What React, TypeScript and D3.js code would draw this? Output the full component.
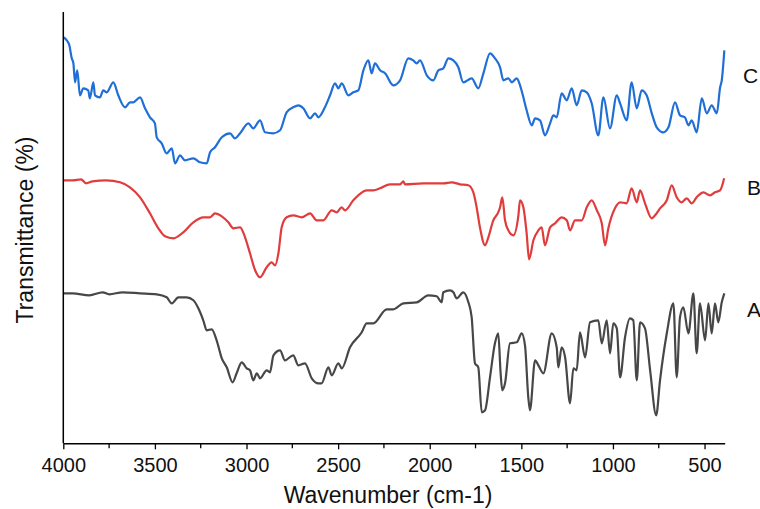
import React, { useRef, useEffect } from 'react';
import * as d3 from 'd3';

// FTIR spectra: [wavenumber (cm-1), transmittance (a.u.)]
const sampleC: [number, number][] = [
  [4000, 406], [3981, 403], [3967, 398], [3954, 385], [3945, 380], [3936, 361], [3924, 373],
  [3909, 348], [3891, 355], [3864, 353], [3855, 345], [3836, 361], [3827, 348], [3800, 346],
  [3782, 353], [3763, 351], [3727, 361], [3700, 348], [3663, 336], [3636, 341], [3618, 341],
  [3581, 346], [3554, 335], [3527, 326], [3500, 320], [3490, 306], [3463, 300], [3436, 290],
  [3408, 295], [3390, 280], [3363, 288], [3336, 283], [3290, 285], [3254, 281], [3217, 280],
  [3199, 291], [3172, 296], [3135, 306], [3090, 310], [3063, 305], [3035, 310], [2990, 320],
  [2963, 315], [2926, 323], [2899, 311], [2854, 310], [2817, 313], [2781, 331], [2745, 336],
  [2717, 338], [2690, 335], [2653, 325], [2626, 330], [2608, 326], [2572, 336], [2544, 348],
  [2517, 360], [2499, 355], [2480, 360], [2444, 348], [2417, 351], [2390, 353], [2362, 373],
  [2335, 383], [2317, 370], [2299, 380], [2271, 373], [2244, 370], [2199, 358], [2162, 363],
  [2117, 385], [2090, 383], [2071, 380], [2053, 383], [2016, 368], [1980, 363], [1953, 373],
  [1926, 375], [1898, 385], [1871, 383], [1844, 376], [1817, 361], [1771, 365], [1735, 355],
  [1707, 370], [1671, 390], [1644, 385], [1616, 376], [1598, 363], [1571, 365], [1552, 361],
  [1525, 365], [1507, 358], [1489, 346], [1471, 333], [1443, 318], [1425, 325], [1398, 323],
  [1371, 308], [1343, 320], [1325, 328], [1307, 326], [1280, 350], [1252, 343], [1225, 355],
  [1198, 338], [1170, 353], [1143, 351], [1116, 340], [1080, 308], [1052, 346], [1016, 315],
  [979, 348], [961, 340], [925, 323], [898, 361], [870, 335], [843, 353], [816, 348],
  [788, 330], [761, 316], [725, 311], [697, 316], [661, 341], [634, 328], [607, 326],
  [588, 318], [570, 323], [543, 311], [515, 345], [488, 330], [461, 338], [433, 330],
  [415, 356], [406, 363], [392, 393],
];

const sampleB: [number, number][] = [
  [4000, 263], [3949, 263], [3903, 264], [3876, 260], [3840, 262], [3767, 263], [3690, 261],
  [3636, 256], [3581, 246], [3527, 230], [3481, 215], [3445, 207], [3399, 205], [3345, 211],
  [3290, 221], [3236, 226], [3199, 226], [3172, 230], [3135, 227], [3099, 221], [3072, 215],
  [3035, 216], [3008, 206], [2981, 190], [2953, 173], [2926, 166], [2890, 176], [2863, 181],
  [2844, 178], [2826, 190], [2808, 216], [2781, 226], [2745, 228], [2699, 226], [2653, 230],
  [2617, 223], [2581, 223], [2535, 233], [2508, 231], [2481, 236], [2462, 233], [2417, 243],
  [2344, 253], [2308, 253], [2271, 255], [2217, 259], [2162, 259], [2144, 262], [2135, 259],
  [2035, 260], [1926, 260], [1880, 261], [1835, 259], [1790, 258], [1762, 251], [1744, 236],
  [1726, 216], [1698, 198], [1680, 206], [1653, 223], [1626, 231], [1616, 236], [1604, 246],
  [1589, 223], [1571, 213], [1544, 208], [1516, 228], [1507, 243], [1489, 236], [1471, 210],
  [1458, 184], [1434, 203], [1407, 213], [1389, 216], [1371, 198], [1343, 216], [1316, 220],
  [1280, 226], [1252, 223], [1234, 213], [1207, 223], [1170, 223], [1143, 236], [1116, 243],
  [1088, 233], [1061, 220], [1043, 198], [1025, 215], [989, 235], [961, 241], [925, 240],
  [898, 255], [870, 241], [852, 253], [825, 240], [788, 225], [770, 228], [743, 235],
  [706, 243], [679, 258], [652, 246], [625, 241], [597, 245], [570, 240], [543, 246],
  [506, 251], [470, 248], [443, 251], [415, 253], [393, 265],
];

const sampleA: [number, number][] = [
  [4000, 150], [3949, 150], [3858, 148], [3785, 151], [3749, 149], [3676, 151], [3581, 150],
  [3490, 149], [3436, 146], [3408, 140], [3372, 146], [3327, 146], [3290, 143], [3263, 135],
  [3236, 123], [3217, 113], [3190, 114], [3163, 103], [3135, 85], [3108, 76], [3076, 61],
  [3054, 70], [3026, 81], [2999, 75], [2981, 73], [2963, 63], [2944, 70], [2926, 65],
  [2890, 73], [2872, 71], [2853, 88], [2817, 93], [2790, 83], [2745, 88], [2717, 78],
  [2681, 80], [2644, 65], [2608, 60], [2590, 60], [2553, 76], [2535, 68], [2499, 80],
  [2480, 75], [2435, 96], [2371, 111], [2344, 120], [2308, 120], [2235, 134], [2199, 134],
  [2144, 140], [2071, 141], [2008, 148], [1962, 147], [1935, 141], [1926, 151], [1889, 153],
  [1871, 151], [1853, 145], [1817, 151], [1789, 141], [1771, 126], [1753, 80], [1735, 76],
  [1716, 31], [1698, 33], [1671, 66], [1644, 100], [1626, 110], [1613, 70], [1604, 53],
  [1589, 60], [1562, 100], [1525, 101], [1498, 110], [1480, 98], [1462, 46], [1453, 33],
  [1425, 83], [1407, 78], [1380, 70], [1334, 110], [1307, 96], [1298, 76], [1280, 96],
  [1261, 86], [1234, 40], [1216, 75], [1198, 73], [1180, 111], [1152, 86], [1125, 121],
  [1080, 123], [1061, 100], [1034, 123], [1016, 90], [998, 120], [979, 115], [961, 66],
  [934, 106], [907, 125], [889, 123], [870, 63], [852, 121], [825, 115], [797, 73],
  [764, 28], [743, 63], [706, 110], [670, 140], [652, 66], [634, 126], [616, 136],
  [588, 110], [561, 150], [543, 90], [525, 140], [497, 103], [479, 140], [461, 110],
  [443, 140], [425, 121], [406, 141], [392, 150],
];

const seriesNames = ['A', 'B', 'C'];
const seriesColors = ['#474747', '#e03c3c', '#1f6fd6'];
const majorTicks = [4000, 3500, 3000, 2500, 2000, 1500, 1000, 500];
const minorTicks = [3750, 3250, 2750, 2250, 1750, 1250, 750];

const FONT = '"Liberation Sans", Arial, sans-serif';

const App = () => {
  const ref = useRef<SVGSVGElement | null>(null);

  useEffect(() => {
    if (!ref.current) return;
    const svg = d3.select(ref.current);
    svg.selectAll('*').remove();

    const left = 63.3, right = 724.7, top = 12, bottom = 443.3;

    const x = d3.scaleLinear().domain([4000, 390]).range([left, right]);
    const y = d3.scaleLinear().domain([0, 431.3]).range([bottom, top]);

    const line = d3.line<[number, number]>()
      .x(d => x(d[0]))
      .y(d => y(d[1]))
      .curve(d3.curveMonotoneX);

    const data = [sampleA, sampleB, sampleC];
    data.forEach((s, i) => {
      svg.append('path')
        .datum(s)
        .attr('d', line)
        .attr('fill', 'none')
        .attr('stroke', seriesColors[i])
        .attr('stroke-width', 2.2)
        .attr('stroke-linejoin', 'round');
    });

    // x axis
    const xAxis = svg.append('g')
      .attr('transform', `translate(0,${bottom})`)
      .call(d3.axisBottom(x).tickValues(majorTicks).tickSize(6).tickSizeOuter(0).tickPadding(9)
        .tickFormat(d => String(d)));
    xAxis.select('.domain').attr('stroke', '#000').attr('stroke-width', 1.5);
    xAxis.selectAll('.tick line').attr('stroke', '#000').attr('stroke-width', 1.3);
    xAxis.selectAll('.tick text')
      .attr('font-family', FONT).attr('font-size', 20).attr('fill', '#111');

    svg.append('g')
      .selectAll('line')
      .data(minorTicks)
      .join('line')
      .attr('x1', d => x(d)).attr('x2', d => x(d))
      .attr('y1', bottom).attr('y2', bottom + 5)
      .attr('stroke', '#000').attr('stroke-width', 1.3);

    // y axis line only
    svg.append('line')
      .attr('x1', left).attr('x2', left)
      .attr('y1', top).attr('y2', bottom)
      .attr('stroke', '#000').attr('stroke-width', 1.5);

    svg.append('text')
      .attr('x', 388).attr('y', 503)
      .attr('text-anchor', 'middle')
      .attr('font-family', FONT).attr('font-size', 23).attr('fill', '#111')
      .text('Wavenumber (cm-1)');

    svg.append('text')
      .attr('transform', 'translate(33,230) rotate(-90)')
      .attr('text-anchor', 'middle')
      .attr('font-family', FONT).attr('font-size', 23).attr('fill', '#111')
      .text('Transmittance (%)');

    // series labels on the right
    const labelPos = [
      { name: seriesNames[0], x: 747, y: 317 },
      { name: seriesNames[1], x: 747, y: 195 },
      { name: seriesNames[2], x: 743, y: 83 },
    ];
    svg.append('g')
      .selectAll('text')
      .data(labelPos)
      .join('text')
      .attr('x', d => d.x).attr('y', d => d.y)
      .attr('font-family', FONT).attr('font-size', 21).attr('fill', '#111')
      .text(d => d.name);
  }, []);

  return (
    <svg ref={ref} width={760} height={509}
      style={{ position: 'absolute', left: 0, top: 0, background: '#fff' }} />
  );
};

export default App;
